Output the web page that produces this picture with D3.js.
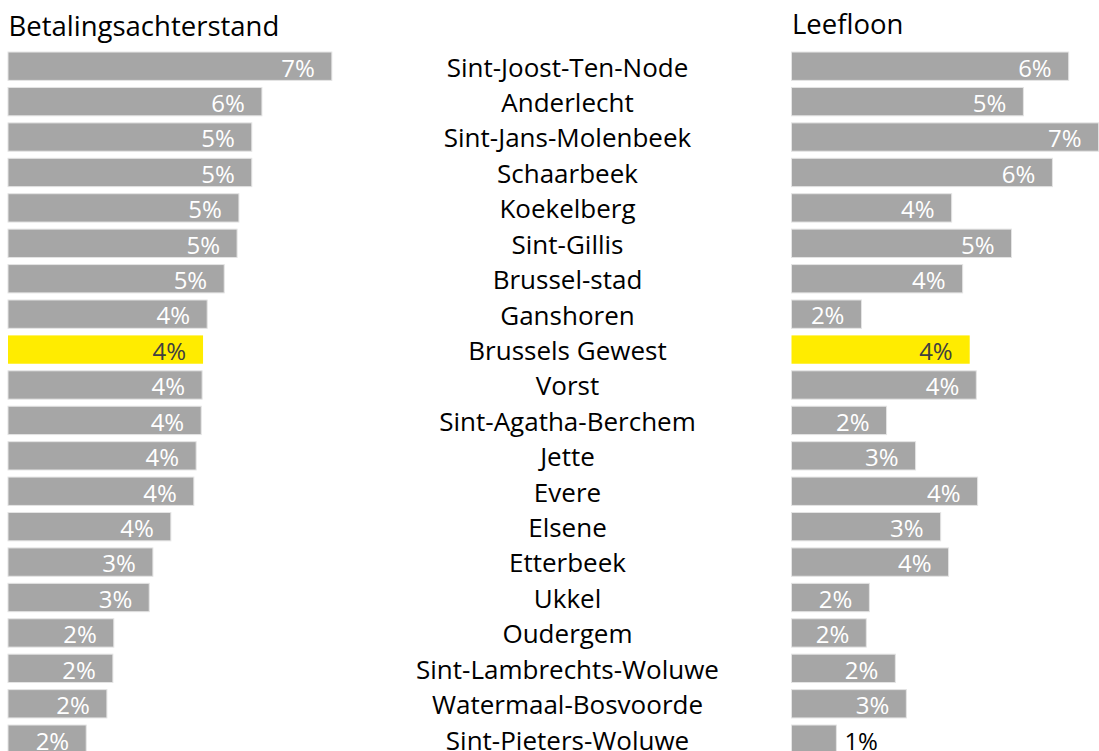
<!DOCTYPE html>
<html>
<head>
<meta charset="utf-8">
<script src="https://cdn.jsdelivr.net/npm/d3@7"></script>
<style>
  html, body { margin: 0; padding: 0; background: #fff; }
  svg { display: block; font-family: "Open Sans", sans-serif; }
</style>
</head>
<body>
<div id="chart"></div>
<script>
// gemeenten, top to bottom
const GEMEENTEN = [
  'Sint-Joost-Ten-Node', 'Anderlecht', 'Sint-Jans-Molenbeek', 'Schaarbeek', 'Koekelberg',
  'Sint-Gillis', 'Brussel-stad', 'Ganshoren', 'Brussels Gewest', 'Vorst',
  'Sint-Agatha-Berchem', 'Jette', 'Evere', 'Elsene', 'Etterbeek',
  'Ukkel', 'Oudergem', 'Sint-Lambrechts-Woluwe', 'Watermaal-Bosvoorde', 'Sint-Pieters-Woluwe'
];
const BETALING = [
  0.0704, 0.0552, 0.0530, 0.0530, 0.0502, 0.0498, 0.0470, 0.0433, 0.0424, 0.0422,
  0.0420, 0.0409, 0.0404, 0.0354, 0.0315, 0.0307, 0.0230, 0.0228, 0.0215, 0.0170
];
const LEEFLOON = [
  0.0630, 0.0527, 0.0698, 0.0593, 0.0364, 0.0500, 0.0389, 0.0159, 0.0405, 0.0420,
  0.0216, 0.0282, 0.0423, 0.0339, 0.0357, 0.0177, 0.0170, 0.0236, 0.0261, 0.0102
];
const HIGHLIGHT = 'Brussels Gewest';

const W = 1099, H = 751;
const GREY = '#a6a6a6', YELLOW = '#ffec00';
const fmt = d3.format('.0%');

const svg = d3.select('#chart').append('svg')
  .attr('width', W).attr('height', H);

const y = d3.scaleBand().domain(GEMEENTEN)
  .range([48.5, 756.9]).paddingInner(0.2).paddingOuter(0.1);

const xLeft  = d3.scaleLinear().domain([0, 0.08]).range([8, 8 + 368]);
const xRight = d3.scaleLinear().domain([0, 0.07]).range([791.5, 791.5 + 308]);

function panel(values, x, title, titleY) {
  const g = svg.append('g');
  const rows = GEMEENTEN.map((name, i) => ({ name, value: values[i] }));

  g.append('text')
    .attr('x', x(0) + 0.5).attr('y', titleY)
    .attr('font-size', 27.5).attr('fill', '#000')
    .text(title);

  g.selectAll('rect').data(rows).join('rect')
    .attr('x', x(0))
    .attr('y', d => y(d.name))
    .attr('width', d => x(d.value) - x(0))
    .attr('height', y.bandwidth())
    .attr('fill', d => d.name === HIGHLIGHT ? YELLOW : GREY)
    .attr('stroke', d => d.name === HIGHLIGHT ? 'none' : '#e4e4e4')
    .attr('stroke-width', 1);

  // inside end labels, outside when the bar is too short
  g.selectAll('text.val').data(rows).join('text')
    .attr('class', 'val')
    .attr('font-size', 24)
    .attr('y', d => y(d.name) + y.bandwidth() / 2)
    .attr('dy', '0.43em')
    .each(function(d) {
      const w = x(d.value) - x(0);
      const t = d3.select(this);
      if (w < 55) {
        t.attr('x', x(d.value) + 8).attr('text-anchor', 'start').attr('fill', '#000');
      } else {
        t.attr('x', x(d.value) - 17).attr('text-anchor', 'end')
          .attr('fill', d.name === HIGHLIGHT ? '#404040' : '#fff');
      }
    })
    .text(d => fmt(d.value));
}

panel(BETALING, xLeft, 'Betalingsachterstand', 36);
panel(LEEFLOON, xRight, 'Leefloon', 33.5);

// gemeente names in the middle
svg.append('g').selectAll('text').data(GEMEENTEN).join('text')
  .attr('x', 567.5)
  .attr('y', d => y(d) + y.bandwidth() / 2)
  .attr('dy', '0.4em')
  .attr('text-anchor', 'middle')
  .attr('font-size', 26)
  .attr('fill', '#000')
  .text(d => d);
</script>
</body>
</html>
